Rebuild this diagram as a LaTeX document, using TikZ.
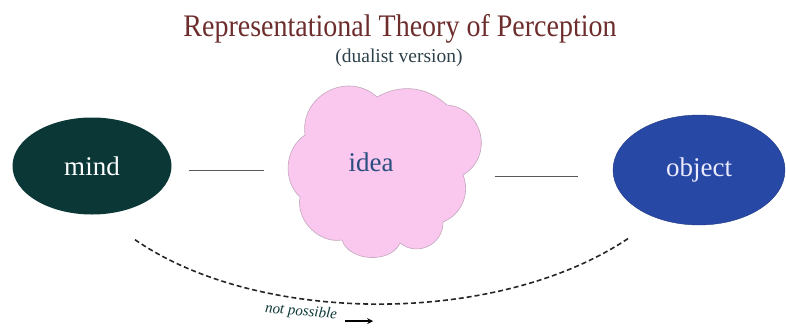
\documentclass[tikz,border=0pt]{standalone}
\usepackage{fontspec}
\setmainfont{Liberation Serif}
\usetikzlibrary{shapes.geometric}
\definecolor{titlered}{RGB}{110,45,45}
\definecolor{subgray}{RGB}{45,65,75}
\definecolor{minddark}{RGB}{12,55,55}
\definecolor{objblue}{RGB}{40,72,165}
\definecolor{ideapink}{RGB}{250,200,238}
\definecolor{ideablue}{RGB}{42,78,128}
\begin{document}
\begin{tikzpicture}[x=1pt, y=-1pt,
  every node/.style={inner sep=0pt},
  blob/.style={ellipse, minimum width=159, minimum height=97},
  link/.style={draw=black!65, line width=0.9pt},
  lbl/.style={font=\fontsize{27}{30}\selectfont}]
\useasboundingbox (0,0) rectangle (786,330);
\node[font=\fontsize{28}{32}\selectfont, text=titlered] (title) at (400,29) {\scalebox{1}[1.12]{Representational Theory of Perception}};
\node[font=\fontsize{19.5}{22}\selectfont, text=subgray] (sub) at (399,58) {(dualist version)};
% the cloud
\fill[ideapink, draw=ideapink!55!gray, line width=0.6pt]
  (305,135) to[bend left=70, looseness=1.25] (377,97) to[bend left=36] (447,105)
  to[bend left=72, looseness=1.3] (463,175) to[bend left=45] (443,222)
  to[bend left=65, looseness=1.2] (400,243) to[bend left=70] (342,240)
  to[bend left=55] (300,197) to[bend left=52] cycle;
\node[blob, fill=minddark, lbl, text=white] (mind) at (92,166) {mind};
\node[lbl, text=ideablue] (idea) at (371,162) {idea};
\node[blob, minimum width=172, minimum height=110, fill=objblue, draw=objblue!80!black, lbl, text=blue!8] (object) at (699,170) {object};
\draw[link, shorten <=17, shorten >=84] ([yshift=-4]mind.east) -- ([yshift=-8]idea.west);
\draw[link, shorten <=101, shorten >=35] ([yshift=-14]idea.east) -- ([yshift=-6]object.west);
\draw[line width=1.6pt, dash pattern=on 5pt off 3pt, black!85]
  ([shift={(43,25)}]mind.south) .. controls (260,326) and (500,326) .. ([shift={(-69,12)}]object.south);
\node[font=\itshape\fontsize{15}{16}\selectfont, text=minddark, rotate=-5] (np) at (301,312) {not possible};
\draw[-stealth, line width=1.6pt] ([shift={(8,6)}]np.east) -- ++(28,0);
\end{tikzpicture}
\end{document}
